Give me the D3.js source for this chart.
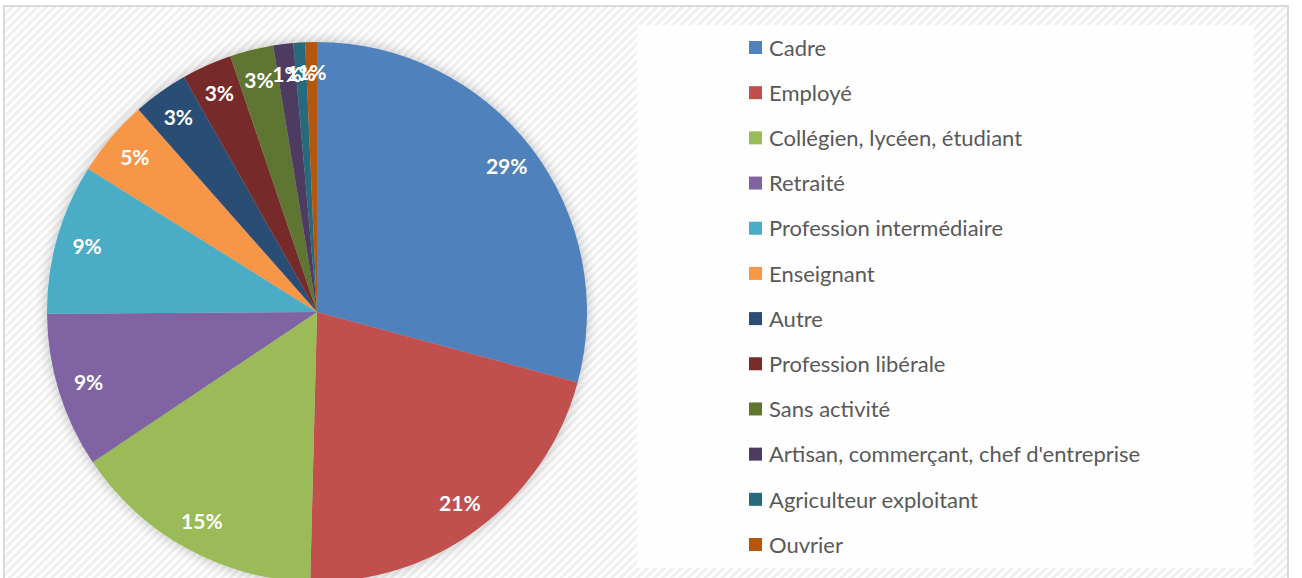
<!DOCTYPE html>
<html lang="fr">
<head>
<meta charset="utf-8">
<title>Catégories socio-professionnelles</title>
<style>
  body { margin: 0; background: #fff; }
  .label { font-family: Lato, sans-serif; font-weight: bold; font-size: 21px; fill: #fff; }
  .legend text { font-family: Lato, sans-serif; font-size: 22px; fill: #595959; }
</style>
</head>
<body>
<script src="https://cdn.jsdelivr.net/npm/d3@7"></script>
<script>
// categories, in drawing order (clockwise from 12 o'clock)
var categories = [
  "Cadre", "Employé", "Collégien, lycéen, étudiant", "Retraité",
  "Profession intermédiaire", "Enseignant", "Autre", "Profession libérale",
  "Sans activité", "Artisan, commerçant, chef d'entreprise",
  "Agriculteur exploitant", "Ouvrier"
];
// shares in percent
var shares = [29.2, 21.2, 15.2, 9.3, 9.0, 4.6, 3.3, 3.0, 2.6, 1.2, 0.7, 0.7];
var colors = [
  "#4f81bd", "#c0504d", "#9bbb59", "#8064a2", "#4bacc6", "#f79646",
  "#2c4d75", "#772c2a", "#5f7530", "#4d3b62", "#276a7c", "#b65708"
];

var w = 1302, h = 578;
var cx = 317, cy = 312, radius = 270;

var svg = d3.select("body").append("svg")
  .attr("width", w)
  .attr("height", h);

var defs = svg.append("defs");

// faint diagonal hatching used by the chart area
var pat = defs.append("pattern")
  .attr("id", "hatch")
  .attr("width", 6).attr("height", 6)
  .attr("patternUnits", "userSpaceOnUse")
  .attr("patternTransform", "rotate(-45)");
pat.append("rect").attr("width", 6).attr("height", 6).attr("fill", "#fff");
pat.append("rect").attr("width", 6).attr("height", 3).attr("fill", "#f0f0f0");

var shadow = defs.append("filter")
  .attr("id", "glow")
  .attr("x", "-20%").attr("y", "-20%")
  .attr("width", "140%").attr("height", "140%");
shadow.append("feGaussianBlur").attr("in", "SourceAlpha").attr("stdDeviation", 7).attr("result", "b");
shadow.append("feFlood").attr("flood-color", "#000").attr("flood-opacity", 0.25);
shadow.append("feComposite").attr("in2", "b").attr("operator", "in").attr("result", "s");
var merge = shadow.append("feMerge");
merge.append("feMergeNode").attr("in", "s");
merge.append("feMergeNode").attr("in", "SourceGraphic");

// chart area, with its border (bottom runs off the page)
svg.append("rect")
  .attr("x", 4).attr("y", 6)
  .attr("width", 1284).attr("height", 600)
  .attr("fill", "url(#hatch)")
  .attr("stroke", "#d9d9d9")
  .attr("stroke-width", 2);

// legend box
svg.append("rect")
  .attr("x", 637).attr("y", 25)
  .attr("width", 617).attr("height", 543)
  .attr("fill", "#fff")
  .attr("opacity", 0.82);

var data = categories.map(function(c, i) {
  return { name: c, value: shares[i], color: colors[i] };
});
var total = d3.sum(shares);

var pie = d3.pie()
  .sort(null)
  .value(function(d) { return d.value; });

var arc = d3.arc()
  .innerRadius(0)
  .outerRadius(radius);

var labelArc = d3.arc()
  .innerRadius(radius * 0.885)
  .outerRadius(radius * 0.885);

var g = svg.append("g")
  .attr("transform", "translate(" + cx + "," + cy + ")");

var arcs = pie(data);

g.append("g")
  .attr("filter", "url(#glow)")
  .selectAll("path")
  .data(arcs)
  .enter()
  .append("path")
  .attr("d", arc)
  .attr("fill", function(d) { return d.data.color; });

var pct = d3.format(".0%");
g.selectAll("text.label")
  .data(arcs)
  .enter()
  .append("text")
  .attr("class", "label")
  .attr("transform", function(d) { return "translate(" + labelArc.centroid(d) + ")"; })
  .attr("text-anchor", "middle")
  .attr("dy", "0.35em")
  .text(function(d) { return pct(d.data.value / total); });

// legend
var rowY = d3.scalePoint()
  .domain(categories)
  .range([48, 545]);

var legend = svg.append("g")
  .attr("class", "legend")
  .selectAll("g")
  .data(data)
  .enter()
  .append("g")
  .attr("transform", function(d) { return "translate(749," + rowY(d.name) + ")"; });

legend.append("rect")
  .attr("x", 0).attr("y", -7)
  .attr("width", 13).attr("height", 13)
  .attr("fill", function(d) { return d.color; });

legend.append("text")
  .attr("x", 20)
  .attr("dy", "0.35em")
  .text(function(d) { return d.name; });
</script>
</body>
</html>
